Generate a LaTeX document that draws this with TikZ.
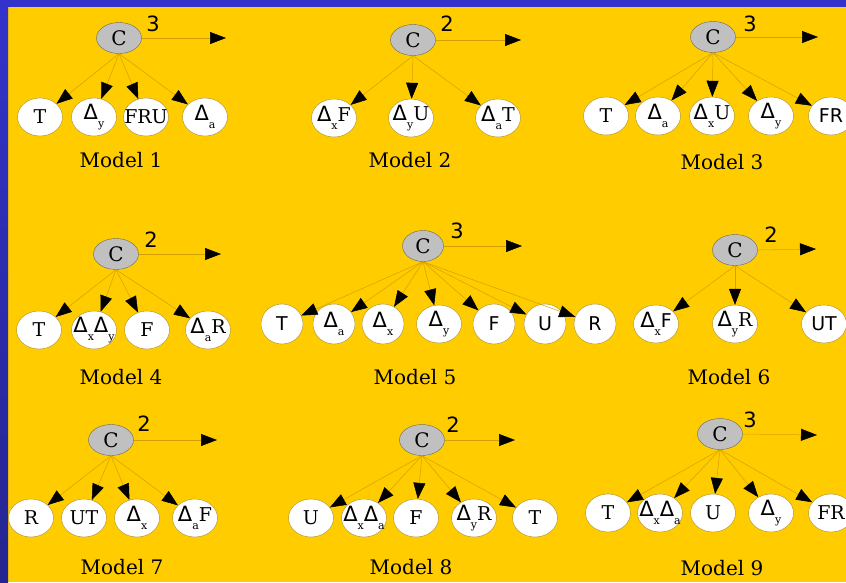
\documentclass[tikz,border=0pt]{standalone}
\usepackage{fontspec}
\setmainfont{DejaVu Serif}
\newfontfamily\dvsans{DejaVu Sans}
\usetikzlibrary{arrows.meta,shapes.geometric}
\definecolor{bgyellow}{HTML}{FFCC00}
\definecolor{barblue}{HTML}{3333CC}
\definecolor{bardark}{HTML}{25258F}
\definecolor{edgecol}{HTML}{D4A000}
\definecolor{leafborder}{HTML}{A88A2A}
\definecolor{cgray}{HTML}{C0C0C0}
\newcommand{\zw}[1]{\makebox[0pt]{#1}}
\newcommand{\Dl}[1]{{\dvsans\fontsize{21}{21}\selectfont Δ}\raisebox{-8pt}{\fontsize{11}{11}\selectfont #1}}
\newcommand{\sn}[1]{{\dvsans #1}}
\begin{document}
\begin{tikzpicture}[x=1pt,y=-1pt,
  cnode/.style={ellipse,draw=gray!80!black,line width=0.4pt,fill=cgray,minimum width=45pt,minimum height=31pt,inner sep=0pt,font=\fontsize{20}{20}\selectfont},
  leaf/.style={ellipse,draw=leafborder,line width=0.4pt,fill=white,minimum width=45pt,minimum height=38pt,inner sep=0pt,font=\fontsize{19}{19}\selectfont},
  rleaf/.style={leaf,minimum width=42pt,minimum height=40pt},
  con/.style={draw=edgecol,line width=0.5pt,-{Triangle[length=16pt,width=12pt,color=black]}},
  num/.style={font=\dvsans\fontsize{21}{21}\selectfont,inner sep=0pt},
  lab/.style={font=\fontsize{20}{20}\selectfont,inner sep=0pt}]
\useasboundingbox (0,0) rectangle (846,582);
\fill[bgyellow] (0,0) rectangle (846,582);
\shade[top color=barblue,bottom color=bardark] (0,0) rectangle (8,582);
\fill[barblue] (0,0) rectangle (846,7);

% Model 1
\node[cnode] (m1c) at (119,38) {C};
\node[num] (m1n) at (153,24) {3};
\coordinate (m1e) at (226,38);
\node[leaf] (m1a) at (40,117) {\zw{T}};
\node[leaf] (m1b) at (94,117) {\zw{\Dl{y}}};
\node[leaf] (m1d) at (146,117) {\zw{FRU}};
\node[leaf] (m1f) at (205,117) {\zw{\Dl{a}}};
\node[lab] (m1l) at (121,160) {Model 1};
\draw[con] (m1c.east) -- (m1e);
\foreach \t in {m1a,m1b,m1d,m1f} \draw[con] (m1c.south) -- (\t);

% Model 2
\node[cnode] (m2c) at (413,40) {C};
\node[num] (m2n) at (447,24) {2};
\coordinate (m2e) at (521,40);
\node[leaf] (m2a) at (334,118) {\zw{\Dl{x}F}};
\node[leaf] (m2b) at (411,118) {\zw{\Dl{y}U}};
\node[leaf] (m2d) at (498,118) {\zw{\Dl{a}T}};
\node[lab] (m2l) at (410,160) {Model 2};
\draw[con] (m2c.east) -- (m2e);
\foreach \t in {m2a,m2b,m2d} \draw[con] (m2c.south) -- (\t);

% Model 3
\node[cnode] (m3c) at (713,37) {C};
\node[num] (m3n) at (750,24) {3};
\coordinate (m3e) at (818,37);
\node[leaf] (m3a) at (606,116) {\zw{T}};
\node[leaf] (m3b) at (658,116) {\zw{\Dl{a}}};
\node[leaf] (m3d) at (712,116) {\zw{\Dl{x}U}};
\node[leaf] (m3f) at (771,116) {\zw{\Dl{y}}};
\node[leaf] (m3g) at (831,116) {\zw{\sn{FR}}};
\node[lab] (m3l) at (722,162) {Model 3};
\draw[con] (m3c.east) -- (m3e);
\foreach \t in {m3a,m3b,m3d,m3f,m3g} \draw[con] (m3c.south) -- (\t);

% Model 4
\node[cnode] (m4c) at (116,254) {C};
\node[num] (m4n) at (151,240) {2};
\coordinate (m4e) at (221,254);
\node[leaf] (m4a) at (39,330) {\zw{T}};
\node[leaf] (m4b) at (94,330) {\zw{\Dl{x}\Dl{y}}};
\node[leaf] (m4d) at (147,330) {\zw{F}};
\node[leaf] (m4f) at (208,330) {\zw{\Dl{a}R}};
\node[lab] (m4l) at (121,377) {Model 4};
\draw[con] (m4c.east) -- (m4e);
\foreach \t in {m4a,m4b,m4d,m4f} \draw[con] (m4c.south) -- (\t);

% Model 5
\node[cnode,minimum width=41pt] (m5c) at (423,246) {C};
\node[num] (m5n) at (457,231) {3};
\coordinate (m5e) at (522,246);
\node[rleaf] (m5a) at (282,324) {\zw{\sn{T}}};
\node[rleaf] (m5b) at (334,324) {\zw{\Dl{a}}};
\node[rleaf] (m5d) at (383,324) {\zw{\Dl{x}}};
\node[leaf] (m5f) at (439,324) {\zw{\Dl{y}}};
\node[rleaf] (m5g) at (494,324) {\zw{\sn{F}}};
\node[rleaf] (m5h) at (545,324) {\zw{\sn{U}}};
\node[rleaf] (m5i) at (595,324) {\zw{\sn{R}}};
\node[lab] (m5l) at (415,377) {Model 5};
\draw[con] (m5c.east) -- (m5e);
\foreach \t in {m5a,m5b,m5d,m5f,m5g,m5h,m5i} \draw[con] (m5c.south) -- (\t);

% Model 6
\node[cnode] (m6c) at (735,250) {C};
\node[num] (m6n) at (771,235) {2};
\coordinate (m6e) at (816,249);
\node[leaf] (m6a) at (656,324) {\zw{\Dl{x}\sn{F}}};
\node[leaf] (m6b) at (735,324) {\zw{\Dl{y}R}};
\node[leaf] (m6d) at (824,324) {\zw{\sn{UT}}};
\node[lab] (m6l) at (729,377) {Model 6};
\draw[con] (m6c.east) -- (m6e);
\foreach \t in {m6a,m6b,m6d} \draw[con] (m6c.south) -- (\t);

% Model 7
\node[cnode] (m7c) at (111,440) {C};
\node[num] (m7n) at (144,424) {2};
\coordinate (m7e) at (217,440);
\node[leaf] (m7a) at (31,518) {\zw{R}};
\node[leaf] (m7b) at (84,518) {\zw{UT}};
\node[leaf] (m7d) at (137,518) {\zw{\Dl{x}}};
\node[leaf] (m7f) at (195,518) {\zw{\Dl{a}F}};
\node[lab] (m7l) at (122,567) {Model 7};
\draw[con] (m7c.east) -- (m7e);
\foreach \t in {m7a,m7b,m7d,m7f} \draw[con] (m7c.south) -- (\t);

% Model 8
\node[cnode] (m8c) at (422,440) {C};
\node[num] (m8n) at (453,425) {2};
\coordinate (m8e) at (515,440);
\node[leaf] (m8a) at (311,518) {\zw{U}};
\node[leaf] (m8b) at (364,518) {\zw{\Dl{x}\Dl{a}}};
\node[leaf] (m8d) at (416,518) {\zw{F}};
\node[leaf] (m8f) at (474,518) {\zw{\Dl{y}R}};
\node[leaf] (m8g) at (535,518) {\zw{T}};
\node[lab] (m8l) at (411,567) {Model 8};
\draw[con] (m8c.east) -- (m8e);
\foreach \t in {m8a,m8b,m8d,m8f,m8g} \draw[con] (m8c.south) -- (\t);

% Model 9
\node[cnode] (m9c) at (720,434) {C};
\node[num] (m9n) at (750,420) {3};
\coordinate (m9e) at (817,435);
\node[leaf] (m9a) at (608,513) {\zw{T}};
\node[leaf] (m9b) at (660,513) {\zw{\Dl{x}\Dl{a}}};
\node[leaf] (m9d) at (713,513) {\zw{U}};
\node[leaf] (m9f) at (771,513) {\zw{\Dl{y}}};
\node[leaf] (m9g) at (831,513) {\zw{FR}};
\node[lab] (m9l) at (722,568) {Model 9};
\draw[con] (m9c.east) -- (m9e);
\foreach \t in {m9a,m9b,m9d,m9f,m9g} \draw[con] (m9c.south) -- (\t);
\end{tikzpicture}
\end{document}
